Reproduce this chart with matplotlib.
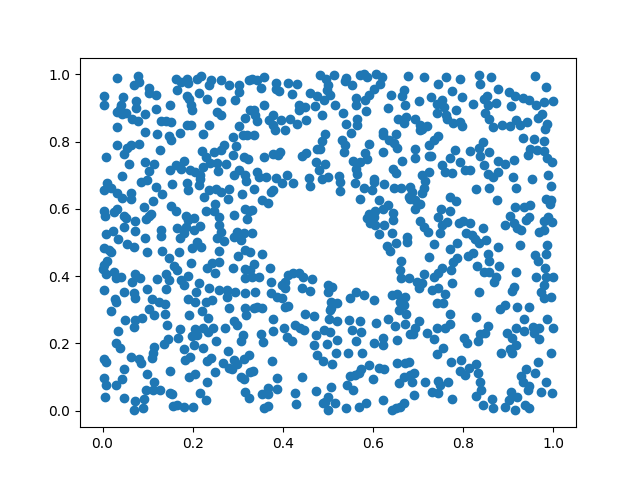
import matplotlib
matplotlib.use('Agg')
import matplotlib.pyplot as plt

# points, one list per part of the plot
top_left = [
    (.032,.990),(.078,.994),(.081,.977),(.069,.969),(.003,.935),(.003,.910),(.046,.933),(.074,.921),(.103,.960),(.103,.946),
    (.119,.940),(.164,.986),(.175,.977),(.188,.985),(.189,.975),(.209,.985),(.218,.995),(.165,.953),(.214,.946),(.188,.936),
    (.192,.928),(.196,.910),(.199,.893),(.231,.928),(.149,.910),(.118,.898),(.074,.901),(.041,.910),(.038,.898),(.031,.888),
    (.044,.883),(.053,.886),(.066,.868),(.078,.860),(.094,.883),(.032,.845),(.129,.860),(.140,.861),(.151,.857),(.188,.851),
    (.197,.849),(.236,.849),(.094,.830),(.120,.824),(.147,.816),(.152,.805),(.172,.827),(.223,.824),(.032,.791),(.062,.789),
    (.055,.781),(.047,.764),(.081,.794),(.127,.776),(.007,.753),(.058,.735),(.094,.741),(.114,.733),(.103,.712),(.043,.699),
    (.149,.717),(.163,.732),(.181,.743),(.173,.720),(.195,.715),(.206,.710),(.223,.725),(.217,.700),(.240,.984),(.236,.967),
    (.262,.983),(.280,.969),(.303,.967),(.303,.948),(.294,.923),(.263,.920),(.253,.888),(.263,.880),(.316,.871),(.303,.848),
    (.289,.815),(.311,.821),(.321,.819),(.296,.787),(.269,.791),(.262,.774),(.247,.769),(.221,.772),(.229,.755),(.238,.738),
    (.254,.738),(.274,.735),(.255,.712),(.290,.759),(.314,.755),(.303,.715),(.291,.702),(.317,.700),(.325,.982),(.328,.893),
    (.217,.690),
]
top_mid = [
    (.331,.985),(.343,.983),(.357,.991),(.351,.960),(.384,.974),(.385,.957),(.392,.950),(.411,.974),(.432,.972),(.420,.942),
    (.459,.946),(.475,.936),(.483,.997),(.496,.985),(.499,.969),(.497,.953),(.505,.940),(.491,.923),(.514,.997),(.537,.979),
    (.539,.989),(.554,.969),(.570,.997),(.579,1.000),(.586,.992),(.607,1.000),(.620,.992),(.616,.972),(.601,.957),(.590,.938),
    (.583,.923),(.563,.930),(.562,.910),(.515,.908),(.472,.905),(.450,.903),(.435,.908),(.436,.893),(.486,.880),(.534,.886),
    (.585,.890),(.565,.868),(.541,.853),(.565,.851),(.552,.827),(.632,.900),(.640,.940),(.668,.953),(.665,.936),(.671,.910),
    (.677,.995),(.655,.868),(.673,.873),(.668,.855),(.357,.908),(.335,.893),(.338,.878),(.343,.862),(.377,.878),(.370,.863),
    (.377,.849),(.383,.835),(.395,.863),(.416,.868),(.405,.834),(.431,.854),(.451,.863),(.335,.821),(.494,.824),(.486,.801),
    (.475,.779),(.483,.777),(.531,.804),(.537,.789),(.535,.769),(.592,.794),(.621,.829),(.623,.819),(.636,.804),(.647,.797),
    (.653,.781),(.650,.824),(.621,.770),(.581,.767),(.586,.748),(.571,.740),(.555,.744),(.563,.720),(.565,.705),(.665,.744),
    (.645,.720),(.650,.708),(.394,.769),(.378,.764),(.359,.755),(.390,.761),(.451,.766),(.442,.756),(.473,.741),(.494,.735),
    (.479,.715),(.342,.710),(.346,.695),(.363,.695),(.385,.692),(.409,.700),(.457,.693),(.501,.695),(.486,.688),(.525,.698),
    (.602,.690),(.323,.747),
]
top_right = [
    (.712,.993),(.744,.972),(.761,.993),(.792,.985),(.776,.952),(.798,.934),(.728,.934),(.701,.920),(.741,.913),(.753,.923),
    (.758,.903),(.784,.893),(.741,.884),(.761,.878),(.764,.866),(.778,.855),(.792,.858),(.798,.848),(.821,.913),(.834,.997),
    (.836,.971),(.861,.993),(.876,.957),(.845,.928),(.852,.935),(.854,.908),(.873,.915),(.849,.886),(.856,.868),(.867,.845),
    (.885,.849),(.903,.848),(.916,.865),(.925,.849),(.941,.858),(.906,.906),(.901,.948),(.915,.936),(.932,.930),(.945,.923),
    (.962,.908),(.978,.918),(.999,.922),(.975,.883),(.965,.871),(.960,.995),(.983,.963),(.985,.853),(.982,.837),(.932,.812),
    (.956,.807),(.980,.803),(.947,.779),(.943,.759),(.963,.774),(.978,.772),(.986,.752),(.997,.741),(.912,.746),(.893,.733),
    (.878,.742),(.858,.769),(.843,.799),(.834,.781),(.814,.772),(.836,.757),(.845,.732),(.781,.776),(.771,.750),(.792,.741),
    (.752,.732),(.760,.710),(.776,.708),(.804,.717),(.816,.717),(.854,.705),(.867,.695),(.878,.710),(.910,.696),(.952,.690),
    (.988,.700),(.743,.816),(.734,.804),(.725,.791),(.693,.779),(.693,.752),(.723,.756),(.728,.756),(.708,.702),(.725,.711),
    (.693,.868),(.704,.849),(.704,.834),(.719,.846),(.708,.839),
]
mid_left = [
    (.010,.676),(.003,.656),(.018,.661),(.032,.646),(.044,.633),(.062,.646),(.062,.631),(.119,.664),(.132,.643),(.155,.674),
    (.086,.679),(.099,.686),(.188,.676),(.189,.656),(.214,.671),(.225,.636),(.236,.656),(.251,.659),(.262,.651),(.280,.659),
    (.278,.629),(.309,.643),(.319,.683),(.112,.623),(.092,.607),(.003,.594),(.005,.580),(.031,.599),(.025,.592),(.047,.580),
    (.051,.572),(.072,.565),(.047,.545),(.103,.580),(.097,.569),(.108,.584),(.151,.610),(.163,.595),(.184,.580),(.203,.572),
    (.189,.567),(.229,.594),(.249,.614),(.247,.594),(.258,.577),(.291,.582),(.315,.599),(.325,.595),(.321,.570),(.166,.542),
    (.129,.537),(.129,.520),(.073,.534),(.007,.524),(.023,.534),(.034,.512),(.094,.515),(.055,.496),(.069,.486),(.186,.545),
    (.203,.537),(.217,.549),(.180,.527),(.172,.515),(.258,.552),(.262,.530),(.253,.515),(.269,.505),(.291,.517),(.299,.532),
    (.314,.527),(.306,.508),(.210,.503),(.219,.488),(.199,.483),(.258,.476),(.169,.471),(.132,.476),(.099,.471),(.004,.483),
    (.014,.478),(.018,.471),(.147,.453),(.301,.460),(.317,.478),(.010,.445),(.003,.433),(.000,.421),(.007,.408),(.025,.413),
    (.029,.394),(.040,.397),(.158,.431),(.166,.418),(.197,.439),(.232,.423),(.242,.438),(.259,.441),(.249,.409),(.289,.423),
    (.317,.420),(.317,.396),(.072,.407),(.084,.394),(.066,.382),(.099,.361),(.120,.391),(.141,.407),(.147,.388),(.173,.389),
    (.189,.401),(.180,.374),(.214,.379),(.140,.361),(.003,.358),(.047,.352),(.069,.349),(.071,.334),(.027,.332),(.207,.352),
    (.236,.364),(.258,.359),(.277,.359),(.294,.354),(.317,.349),(.277,.339),(.109,.331),(.189,.332),
]
mid_mid = [
    (.335,.659),(.353,.626),(.366,.619),(.379,.656),(.373,.649),(.398,.676),(.423,.676),(.459,.669),(.527,.653),(.527,.681),
    (.560,.676),(.579,.661),(.597,.656),(.601,.681),(.625,.674),(.647,.661),(.662,.661),(.679,.636),(.571,.629),(.612,.626),
    (.634,.613),(.623,.601),(.605,.594),(.592,.584),(.586,.572),(.594,.557),(.605,.552),(.601,.577),(.645,.587),(.645,.567),
    (.625,.552),(.612,.524),(.641,.527),(.675,.517),(.675,.502),(.651,.498),(.631,.490),(.638,.475),(.663,.445),(.660,.418),
    (.662,.394),(.331,.597),(.331,.527),(.327,.471),(.353,.465),(.335,.435),(.327,.418),(.346,.399),(.331,.399),(.372,.423),
    (.373,.382),(.398,.374),(.405,.384),(.405,.364),(.412,.404),(.423,.410),(.435,.411),(.444,.399),(.442,.366),(.464,.392),
    (.461,.355),(.499,.374),(.509,.369),(.501,.354),(.338,.352),(.374,.351),(.388,.339),(.398,.334),(.548,.334),(.563,.354),
    (.580,.344),(.642,.344),(.653,.346),(.671,.339),
]
mid_right = [
    (.715,.683),(.682,.666),(.686,.651),(.712,.661),(.708,.646),(.682,.631),(.693,.626),(.704,.616),(.693,.601),(.829,.658),
    (.858,.661),(.916,.661),(.994,.667),(.874,.628),(.771,.634),(.784,.625),(.984,.629),(.995,.626),(.992,.616),(.947,.613),
    (.934,.605),(.914,.607),(.750,.599),(.771,.595),(.745,.577),(.764,.560),(.753,.552),(.749,.527),(.703,.564),(.713,.547),
    (.721,.530),(.903,.580),(.945,.577),(.940,.567),(.912,.557),(.892,.552),(.919,.542),(.929,.537),(.989,.575),(.978,.564),
    (.997,.560),(.978,.537),(.969,.530),(.790,.557),(.799,.564),(.815,.557),(.844,.542),(.806,.527),(.819,.522),(.851,.509),
    (.834,.498),(.827,.512),(.734,.495),(.787,.498),(.771,.481),(.878,.486),(.925,.492),(.985,.493),(.984,.465),(.958,.463),
    (.965,.446),(.723,.456),(.787,.453),(.778,.443),(.810,.460),(.821,.468),(.854,.465),(.858,.446),(.830,.430),(.880,.430),
    (.845,.412),(.858,.413),(.918,.412),(.982,.423),(.983,.399),(1.000,.399),(.961,.399),(.872,.399),(.869,.384),(.752,.423),
    (.745,.411),(.734,.399),(.772,.419),(.712,.407),(.679,.394),(.698,.382),(.708,.379),(.701,.364),(.775,.379),(.743,.364),
    (.730,.358),(.760,.346),(.834,.352),(.912,.369),(.908,.356),(.980,.374),(.972,.352),(.994,.339),(.978,.334),
]
bot_left = [
    (.030,.322),(.125,.322),(.138,.317),(.103,.302),(.115,.286),(.138,.287),(.018,.298),(.049,.269),(.073,.269),(.088,.277),
    (.069,.250),(.143,.256),(.035,.236),(.172,.243),(.167,.217),(.145,.213),(.136,.197),(.029,.201),(.038,.188),(.114,.190),
    (.112,.173),(.109,.157),(.180,.185),(.203,.195),(.223,.188),(.206,.242),(.223,.247),(.234,.235),(.245,.247),(.210,.225),
    (.199,.223),(.251,.207),(.271,.247),(.291,.266),(.299,.254),(.192,.284),(.221,.296),(.234,.277),(.206,.322),(.229,.323),
    (.243,.329),(.280,.304),(.317,.304),(.319,.284),(.312,.225),(.306,.208),(.278,.177),(.240,.158),(.231,.148),(.195,.161),
    (.183,.152),(.064,.161),(.081,.155),(.086,.141),(.003,.155),(.007,.145),(.047,.124),(.099,.110),(.149,.117),(.249,.114),
    (.268,.143),(.280,.128),(.291,.150),(.288,.124),(.299,.140),(.314,.155),(.325,.167),(.306,.101),(.314,.093),(.328,.116),
    (.206,.109),(.192,.101),(.231,.084),(.003,.096),(.007,.076),(.030,.078),(.043,.093),(.114,.086),(.097,.062),(.112,.063),
    (.127,.063),(.149,.054),(.155,.050),(.216,.054),(.230,.031),(.317,.056),(.325,.037),(.005,.040),(.047,.037),(.072,.029),
    (.092,.034),(.089,.009),(.069,.001),(.156,.014),(.166,.017),(.180,.010),(.201,.010),
]
bot_mid = [
    (.335,.306),(.353,.306),(.342,.309),(.405,.307),(.412,.311),(.448,.287),(.468,.282),(.379,.274),(.403,.247),(.379,.237),
    (.427,.256),(.438,.247),(.446,.240),(.351,.227),(.355,.205),(.409,.218),(.420,.208),(.473,.225),(.491,.240),(.505,.233),
    (.519,.210),(.468,.195),(.497,.198),(.475,.167),(.517,.172),(.544,.173),(.575,.173),(.490,.147),(.508,.138),(.561,.207),
    (.554,.240),(.573,.233),(.601,.200),(.623,.215),(.621,.195),(.654,.209),(.375,.147),(.333,.117),(.386,.096),(.443,.099),
    (.368,.068),(.388,.066),(.353,.051),(.366,.051),(.426,.054),(.473,.059),(.506,.072),(.542,.076),(.548,.103),(.560,.106),
    (.568,.111),(.573,.124),(.590,.136),(.612,.126),(.625,.123),(.599,.093),(.555,.061),(.653,.143),(.671,.142),(.668,.101),
    (.658,.081),(.682,.106),(.499,.041),(.494,.027),(.516,.024),(.501,.002),(.489,.022),(.541,.007),(.568,.012),(.584,.024),
    (.623,.031),(.668,.024),(.660,.012),(.642,.002),(.651,.009),(.368,.014),(.357,.007),(.429,.019),(.506,.322),(.505,.299),
    (.520,.319),(.506,.304),(.503,.272),(.520,.268),(.546,.269),(.571,.268),(.607,.262),(.601,.329),(.634,.272),(.649,.252),
    (.671,.259),(.673,.289),(.657,.299),(.668,.314),(.660,.324),(.681,.227),
]
bot_right = [
    (.701,.266),(.693,.245),(.688,.227),(.719,.230),(.736,.213),(.741,.247),(.760,.245),(.771,.259),(.771,.287),(.741,.319),
    (.756,.319),(.829,.279),(.801,.217),(.808,.202),(.832,.206),(.836,.227),(.849,.230),(.854,.251),(.881,.301),(.893,.314),
    (.920,.307),(.945,.307),(.934,.272),(.985,.272),(1.000,.245),(.918,.245),(.934,.236),(.954,.249),(.967,.247),(.957,.232),
    (.969,.212),(.898,.232),(.908,.215),(.918,.195),(.903,.185),(.908,.173),(.883,.173),(.994,.171),(.754,.187),(.741,.170),
    (.772,.144),(.794,.152),(.829,.140),(.812,.128),(.793,.119),(.803,.105),(.832,.111),(.836,.084),(.840,.061),(.829,.045),
    (.965,.146),(.940,.124),(.960,.111),(.928,.103),(.932,.084),(.945,.074),(.943,.061),(.983,.084),(.972,.057),(.996,.054),
    (.906,.056),(.919,.041),(.901,.031),(.864,.034),(.865,.009),(.843,.016),(.892,.010),(.914,.001),(.938,.017),(.946,.009),
    (.690,.111),(.686,.084),(.690,.048),(.716,.084),(.743,.088),(.749,.078),(.767,.084),(.730,.057),(.745,.053),(.774,.034),
    (.679,.145),
]

points = top_left + top_mid + top_right + mid_left + mid_mid + mid_right + bot_left + bot_mid + bot_right
x = [p[0] for p in points]
y = [p[1] for p in points]

fig, ax = plt.subplots()
ax.scatter(x, y)
plt.savefig('out.png')
